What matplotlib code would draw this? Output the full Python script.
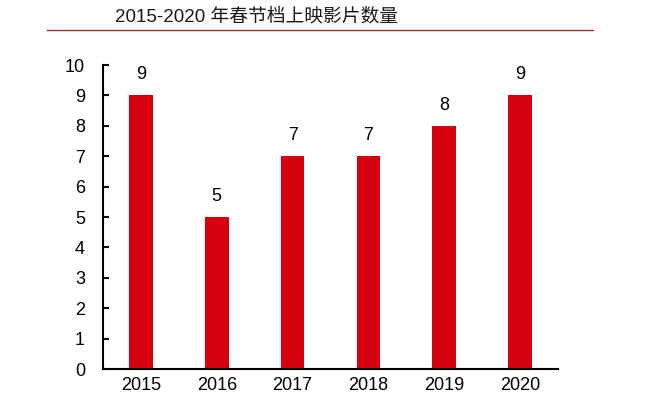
import matplotlib.pyplot as plt
from matplotlib.lines import Line2D

plt.rcParams['font.family'] = ['Liberation Sans', 'Noto Sans CJK SC', 'DejaVu Sans']

years = ['2015', '2016', '2017', '2018', '2019', '2020']
counts = [9, 5, 7, 7, 8, 9]
title = '2015-2020 年春节档上映影片数量'

fig = plt.figure(figsize=(6.48, 3.99), dpi=100)
ax = fig.add_axes([103 / 648, 1 - 369 / 399, 455 / 648, 304 / 399])

x = range(len(years))
ax.bar(x, counts, width=0.31, color='#D7000F')
for i, v in zip(x, counts):
    ax.text(i, v + 0.4, str(v), ha='center', va='bottom', fontsize=13)

ax.set_xlim(-0.5, len(years) - 0.5)
ax.set_ylim(0, 10)
ax.set_yticks(range(0, 11))
ax.set_xticks(list(x))
ax.set_xticklabels(years)
ax.tick_params(axis='y', direction='in', length=4, width=1.5, labelsize=13, pad=13)
ax.tick_params(axis='x', length=0, labelsize=13, pad=6)
for s in ['top', 'right']:
    ax.spines[s].set_visible(False)
ax.spines['left'].set_linewidth(1.5)
ax.spines['bottom'].set_linewidth(1.5)

fig.text(115 / 648, 1 - 17 / 399, title, fontsize=13.5, ha='left', va='center', color='#1a1a1a')
fig.add_artist(Line2D([47 / 648, 593 / 648], [1 - 30 / 399, 1 - 30 / 399],
                      color='#A0302A', linewidth=1, transform=fig.transFigure))

fig.savefig('out.png', dpi=100)
